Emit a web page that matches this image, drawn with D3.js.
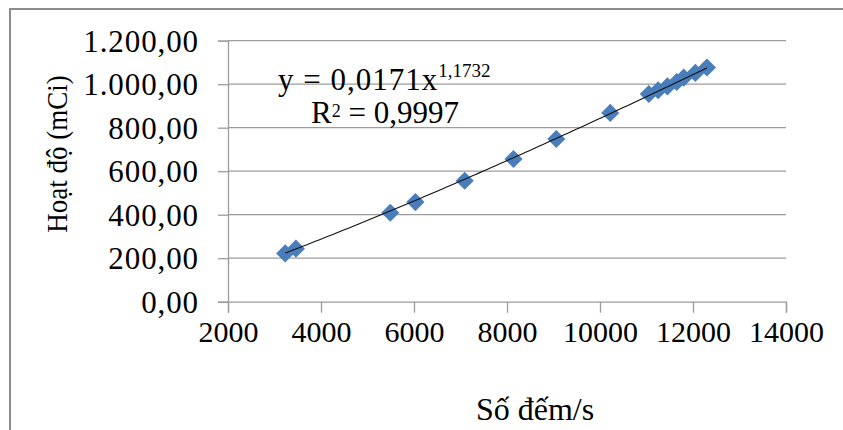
<!DOCTYPE html>
<html><head><meta charset="utf-8">
<script src="https://cdn.jsdelivr.net/npm/d3@7"></script>
<style>body{margin:0;background:#fff}svg{display:block}text{font-family:"Liberation Serif","Times New Roman",serif;fill:#000}</style>
</head><body><svg id="c" width="843" height="430"></svg>
<script>
const countsPerSec = [3230, 3460, 5490, 6030, 7090, 8140, 9060, 10220, 11050, 11250, 11450, 11650, 11800, 12050, 12300];
const activity =     [222, 244, 409, 458, 556, 656, 748, 868, 955, 972, 990, 1010, 1030, 1052, 1077];
const xTicks = [2000, 4000, 6000, 8000, 10000, 12000, 14000];
const yTicks = [0, 200, 400, 600, 800, 1000, 1200];
const fitCoef = [0.0171, 1.1732];
const eqText = ["y = 0,0171x", "1,1732"];
const r2Text = "= 0,9997";

const svg = d3.select("#c");
const L = 228, R = 786, T = 40.7, B = 301.7;
const x = d3.scaleLinear().domain([2000, 14000]).range([L, R]);
const y = d3.scaleLinear().domain([0, 1200]).range([B, T]);
const fmt = v => {
  const s = d3.format(",.2f")(v);
  return s.replace(/,/g, "#").replace(".", ",").replace(/#/g, ".");
};

// outer frame
svg.append("rect").attr("x", 10).attr("y", 9).attr("width", 900).attr("height", 500)
  .attr("fill", "none").attr("stroke", "#8c8c8c").attr("stroke-width", 2);

// gridlines
svg.append("g").selectAll("line").data(yTicks.filter(d => d > 0)).join("line")
  .attr("x1", L).attr("x2", R).attr("y1", d => y(d)).attr("y2", d => y(d))
  .attr("stroke", "#9c9c9c").attr("stroke-width", 1.3);

// y axis
const ya = svg.append("g").attr("transform", `translate(${L},0)`)
  .call(d3.axisLeft(y).tickValues(yTicks).tickFormat(fmt).tickSize(10).tickPadding(19));
ya.select(".domain").attr("stroke", "#9c9c9c").attr("stroke-width", 1.3);
ya.selectAll(".tick line").attr("stroke", "#9c9c9c").attr("stroke-width", 1.3);
ya.selectAll(".tick text").attr("font-size", 31).attr("letter-spacing", "0.9px")
  .attr("font-family", "Liberation Serif").attr("dy", "0.34em");

// x axis
const xa = svg.append("g").attr("transform", `translate(0,${B})`)
  .call(d3.axisBottom(x).tickValues(xTicks).tickFormat(d3.format("d")).tickSize(11).tickPadding(8));
xa.select(".domain").attr("stroke", "#9c9c9c").attr("stroke-width", 1.3);
xa.selectAll(".tick line").attr("stroke", "#9c9c9c").attr("stroke-width", 1.3);
xa.selectAll(".tick text").attr("font-size", 30).attr("font-family", "Liberation Serif");

// trend line
const [xmin, xmax] = d3.extent(countsPerSec);
const trend = d3.range(0, 101).map(i => {
  const xv = xmin + (xmax - xmin) * i / 100;
  return [xv, fitCoef[0] * Math.pow(xv, fitCoef[1])];
});

// points
const diamond = d3.symbol().type(d3.symbolDiamond2).size(210);
svg.append("g").selectAll("path").data(countsPerSec).join("path")
  .attr("d", diamond)
  .attr("transform", (d, i) => `translate(${x(d)},${y(activity[i])})`)
  .attr("fill", "#4a7ebb");

svg.append("path").datum(trend)
  .attr("d", d3.line().x(d => x(d[0])).y(d => y(d[1])))
  .attr("fill", "none").attr("stroke", "#111").attr("stroke-width", 1.1);

// equation
const eq = svg.append("text").attr("x", 278).attr("y", 90).attr("font-size", 31).attr("letter-spacing", "1px");
eq.append("tspan").text(eqText[0]);
eq.append("tspan").attr("font-size", 19).attr("letter-spacing", "0px").attr("dy", -13).text(eqText[1]);
const r2 = svg.append("text").attr("x", 311).attr("y", 123).attr("font-size", 31);
r2.append("tspan").text("R");
r2.append("tspan").attr("font-size", 18).attr("dy", -6).text("2");
r2.append("tspan").attr("dy", 6).text(" " + r2Text);

// axis titles
svg.append("text").attr("transform", "translate(67,154) scale(1.12,1) rotate(-90)").attr("text-anchor", "middle")
  .attr("font-size", 27).text("Hoạt độ (mCi)");
svg.append("text").attr("x", 535).attr("y", 420).attr("text-anchor", "middle")
  .attr("font-size", 32).text("Số đếm/s");
</script></body></html>
